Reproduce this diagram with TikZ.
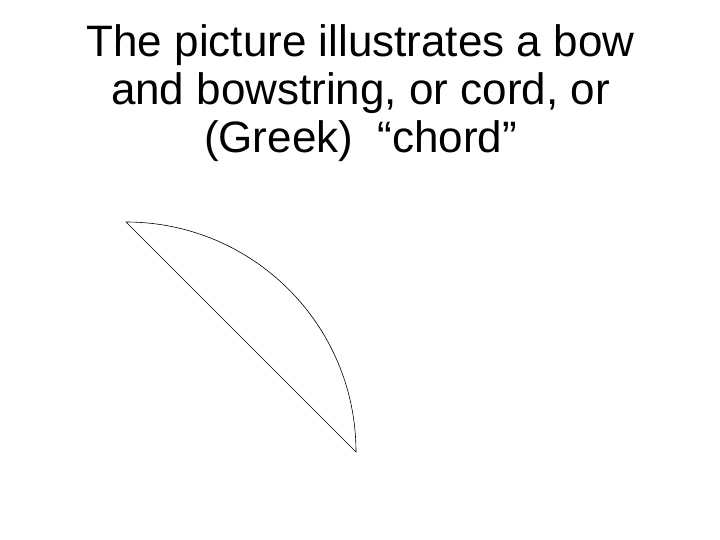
\documentclass[tikz,border=0pt]{standalone}
\usepackage{fontspec}
\setmainfont{Liberation Sans}
\tikzset{
  titletext/.style={anchor=base, inner sep=0pt, font=\fontsize{44}{48}\selectfont},
  bowline/.style={draw=black, line width=0.6pt}
}
\begin{document}
\begin{tikzpicture}[x=1pt,y=1pt]
\useasboundingbox (0,0) rectangle (720,540);
\node[titletext] (t1) at (360.5,483) {The picture illustrates a bow};
\node[titletext] (t2) at (360.5,435) {and bowstring, or cord, or};
\node[titletext] (t3) at (360.5,387) {(Greek)\ \ “chord”};
\coordinate (A) at (126,318);
\coordinate (B) at (356,88);
\draw[bowline] (A) arc[start angle=90, end angle=0, radius=230] -- (A);
\end{tikzpicture}
\end{document}
